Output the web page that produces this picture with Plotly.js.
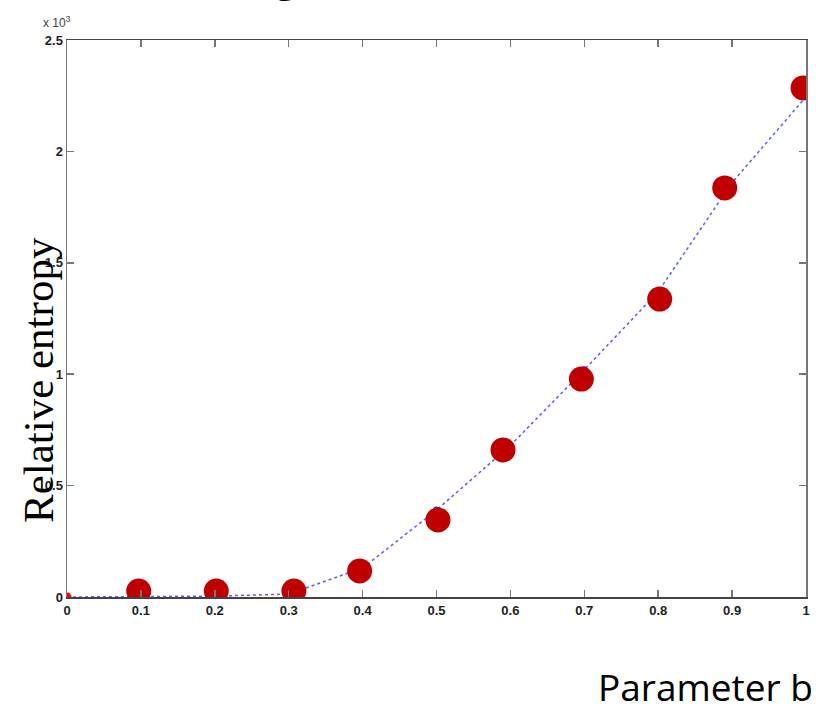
<!DOCTYPE html>
<html>
<head>
<meta charset="utf-8">
<script src="https://cdn.plot.ly/plotly-3.0.1.min.js"></script>
<style>html,body{margin:0;padding:0;background:#fff;}#chart{width:830px;height:711px;}</style>
</head>
<body>
<div id="chart"></div>
<script>
// Parameter b values for the computed curve
const paramB = [0, 0.1, 0.2, 0.3, 0.4, 0.5, 0.6, 0.7, 0.8, 0.9, 1.0];
// Relative entropy (x 10^3 units as shown on the axis) along the blue dotted curve
const entropyLine = [0, 0.002, 0.004, 0.013, 0.13, 0.39, 0.68, 1.02, 1.37, 1.86, 2.245];
// Red highlighted markers (positions)
const markerB = [0, 0.097, 0.202, 0.307, 0.396, 0.502, 0.590, 0.696, 0.802, 0.890, 0.996];
const markerEntropy = [0, 0.027, 0.027, 0.027, 0.117, 0.346, 0.66, 0.978, 1.337, 1.836, 2.285];
// Tick labels
const xTickVals = [0, 0.1, 0.2, 0.3, 0.4, 0.5, 0.6, 0.7, 0.8, 0.9, 1];
const xTickText = ["0", "0.1", "0.2", "0.3", "0.4", "0.5", "0.6", "0.7", "0.8", "0.9", "1"];
const yTickVals = [0, 0.5, 1, 1.5, 2, 2.5];
const yTickText = ["0", "0.5", "1", "1.5", "2", "2.5"];

const traces = [
  {
    x: paramB, y: entropyLine, type: 'scatter', mode: 'lines+markers',
    line: {color: 'rgb(90,90,255)', width: 1.5, dash: 'dot'},
    marker: {color: 'rgb(40,40,255)', size: 7, symbol: 'circle'},
    hoverinfo: 'skip', showlegend: false
  },
  {
    x: markerB.slice(1), y: markerEntropy.slice(1), type: 'scatter', mode: 'markers',
    marker: {color: '#C00000', size: 25, symbol: 'circle'},
    showlegend: false
  },
  {
    x: markerB.slice(0, 1), y: markerEntropy.slice(0, 1), type: 'scatter', mode: 'markers',
    marker: {color: '#FF0000', size: 9, symbol: 'circle'},
    showlegend: false
  }
];

const tickFont = {family: 'Liberation Sans, Arial, sans-serif', size: 13, color: '#222', weight: 'bold'};

const layout = {
  width: 830, height: 711,
  margin: {l: 67, r: 24, t: 40, b: 114, pad: 0},
  paper_bgcolor: '#fff', plot_bgcolor: '#fff',
  showlegend: false,
  xaxis: {
    range: [0, 1], tickmode: 'array', tickvals: xTickVals, ticktext: xTickText,
    ticks: 'inside', ticklen: 7, tickcolor: '#777', tickwidth: 1.5,
    showline: true, linecolor: '#444', linewidth: 1.5, mirror: 'ticks',
    showgrid: false, zeroline: false, tickfont: tickFont, ticklabelstandoff: 1
  },
  yaxis: {
    range: [0, 2.5], tickmode: 'array', tickvals: yTickVals, ticktext: yTickText,
    ticks: 'inside', ticklen: 7, tickcolor: '#777', tickwidth: 1.5,
    showline: true, linecolor: '#777', linewidth: 1.5, mirror: 'ticks',
    showgrid: false, zeroline: false, tickfont: tickFont, ticklabelstandoff: 0
  },
  annotations: [
    {text: 'Relative entropy', textangle: -90, xref: 'paper', yref: 'paper',
     x: (38 - 67) / 739, y: (597 - 380) / 557, xanchor: 'center', yanchor: 'middle',
     showarrow: false, font: {family: 'Liberation Serif, Times New Roman, serif', size: 43, color: '#000'}},
    {text: 'Parameter b', xref: 'paper', yref: 'paper',
     x: (705 - 67) / 739, y: (597 - 686) / 557, xanchor: 'center', yanchor: 'middle',
     showarrow: false, font: {family: 'Open Sans, sans-serif', size: 37, color: '#000'}},
    {text: 'x 10<sup>3</sup>', xref: 'paper', yref: 'paper',
     x: (41 - 67) / 739, y: (597 - 32) / 557, xanchor: 'left', yanchor: 'bottom',
     showarrow: false, font: {family: 'Liberation Sans, Arial, sans-serif', size: 12, color: '#444'}},
    {text: 'g', xref: 'paper', yref: 'paper',
     x: (286 - 67) / 739, y: (597 - 5) / 557, xanchor: 'center', yanchor: 'bottom',
     showarrow: false, font: {family: 'Open Sans, sans-serif', size: 40, color: '#000'}}
  ]
};

Plotly.newPlot('chart', traces, layout, {displayModeBar: false, staticPlot: true});
</script>
</body>
</html>
